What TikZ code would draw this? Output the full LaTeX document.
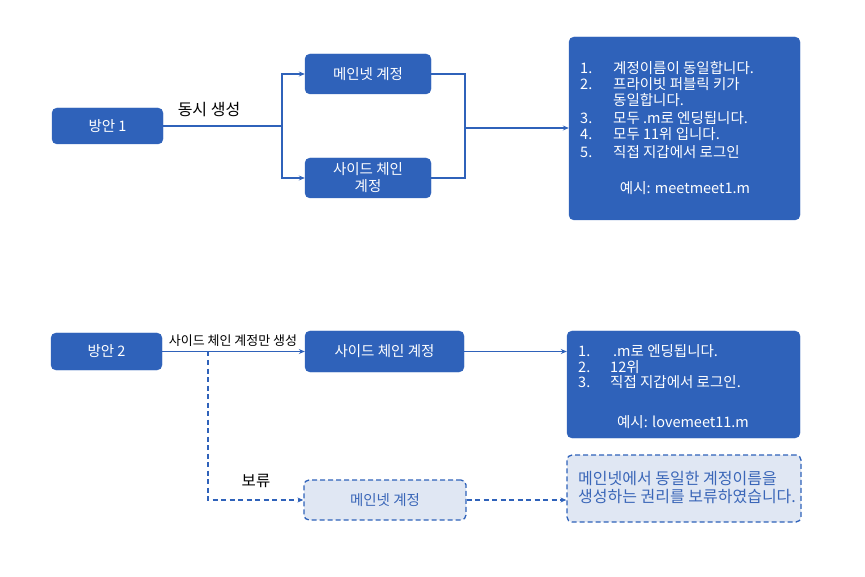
\documentclass[tikz,border=0pt]{standalone}
\usepackage{fontspec}
\setmainfont{Noto Sans CJK KR}
\usetikzlibrary{arrows.meta,positioning}
\definecolor{mblue}{HTML}{2F62BA}
\definecolor{lblue}{HTML}{E0E7F3}
\definecolor{tblue}{HTML}{3A66B8}
\tikzset{
  box/.style={draw=mblue, fill=mblue, rounded corners=5pt, text=white, inner sep=0pt, align=center, font=\fontsize{14.5}{17}\selectfont},
  dbox/.style={draw=mblue, fill=lblue, dashed, dash pattern=on 5pt off 3pt, rounded corners=5pt, text=tblue, inner sep=0pt, align=center, line width=1.3pt, font=\fontsize{14.5}{17}\selectfont},
  conn/.style={draw=mblue, line width=1.2pt},
  arr/.style={conn, -{Stealth[length=6pt,width=5pt]}},
  darr/.style={conn, dashed, dash pattern=on 5pt off 3.5pt, -{Stealth[length=6pt,width=5pt]}},
  lst/.style={text=white, anchor=base west, inner sep=0pt, font=\fontsize{14.5}{17}\selectfont},
  dtxt/.style={text=tblue, anchor=base west, inner sep=0pt, font=\fontsize{16}{18}\selectfont},
  lbl/.style={text=black, inner sep=0pt, anchor=base},
}
\begin{document}
\begin{tikzpicture}[x=1pt,y=-1pt]
\useasboundingbox (0,0) rectangle (865,577);
% top group
\node[box, minimum width=111pt, minimum height=36pt] (p1) at (107.5,126) {방안 1};
\node[box, minimum width=126pt, minimum height=40pt] (mn) at (368,74) {메인넷 계정};
\node[box, minimum width=126pt, minimum height=40pt] (sc) at (368,178) {사이드 체인\\계정};
\node[box, minimum width=231pt, minimum height=183pt] (big) at (684.5,128.5) {};
\coordinate (j1) at (282,126);
\coordinate (j2) at (465,128);
\draw[conn] (p1.east) -- (j1);
\draw[arr] (j1) |- (mn.west);
\draw[arr] (j1) |- (sc.west);
\draw[conn] (mn.east) -| (j2);
\draw[conn] (sc.east) -| (j2);
\draw[arr] (j2) -- (big.west |- j2);
\node[lbl, font=\fontsize{16}{18}\selectfont] (l1) at (209,116) {동시 생성};
% big box text
\node[lst] (b1n) at (580,74) {1.};
\node[lst] (b1t) at (613,74) {계정이름이 동일합니다.};
\node[lst] (b2n) at (580,90) {2.};
\node[lst] (b2t) at (613,90) {프라이빗 퍼블릭 키가};
\node[lst] (b2u) at (613,106) {동일합니다.};
\node[lst] (b3n) at (580,124) {3.};
\node[lst] (b3t) at (613,124) {모두 .m로 엔딩됩니다.};
\node[lst] (b4n) at (580,140) {4.};
\node[lst] (b4t) at (613,140) {모두 11위 입니다.};
\node[lst] (b5n) at (580,158) {5.};
\node[lst] (b5t) at (613,158) {직접 지갑에서 로그인};
\node[lst, anchor=base] (bex) at (685,194) {예시: meetmeet1.m};
% bottom group
\node[box, minimum width=111pt, minimum height=37pt] (p2) at (106.5,351.5) {방안 2};
\node[box, minimum width=159pt, minimum height=41pt] (sc2) at (384.5,351.5) {사이드 체인 계정};
\node[box, minimum width=233pt, minimum height=107pt] (b2) at (683.5,384.5) {};
\node[dbox, minimum width=162pt, minimum height=40pt] (mn2) at (385,500) {메인넷 계정};
\node[dbox, minimum width=234pt, minimum height=67pt] (b3) at (684,488.5) {};
\coordinate (k1) at (208,351.5);
\draw[arr] (p2.east) -- (sc2.west);
\draw[darr] (k1) |- (mn2.west);
\draw[arr] (sc2.east) -- (b2.west |- sc2.east);
\draw[darr] (mn2.east) -- (b3.west |- mn2.east);
\node[lbl, font=\fontsize{13}{15}\selectfont] (l2) at (233,346) {사이드 체인 계정만 생성};
\node[lbl, font=\fontsize{15.5}{17}\selectfont] (l3) at (256,486) {보류};
% box 2 text
\node[lst] (c1n) at (578,356) {1.};
\node[lst] (c1t) at (613,356) {.m로 엔딩됩니다.};
\node[lst] (c2n) at (578,372) {2.};
\node[lst] (c2t) at (610,372) {12위};
\node[lst] (c3n) at (578,388) {3.};
\node[lst] (c3t) at (610,388) {직접 지갑에서 로그인.};
\node[lst, anchor=base] (cex) at (683,427) {예시: lovemeet11.m};
% box 3 text
\node[dtxt] (d1) at (578,484) {메인넷에서 동일한 계정이름을};
\node[dtxt] (d2) at (578,502) {생성하는 권리를 보류하였습니다.};
\end{tikzpicture}
\end{document}
